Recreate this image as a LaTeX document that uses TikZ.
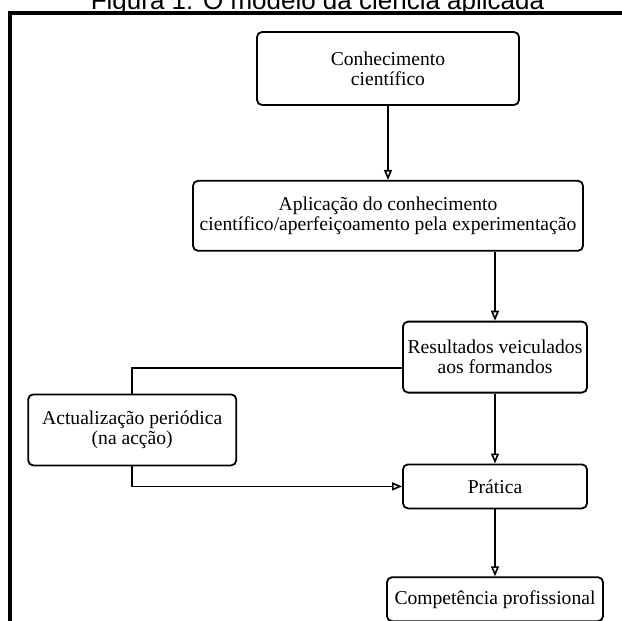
\documentclass[tikz,border=0pt]{standalone}
\usepackage{fontspec}
\setmainfont{Liberation Serif}
\newfontfamily\titlefont{Liberation Sans}
\usetikzlibrary{positioning, arrows.meta}

\begin{document}
\begin{tikzpicture}[
  node distance=35pt and 20pt,
  box/.style={draw, rounded corners=2.5pt, line width=0.9pt, align=center,
              inner sep=2pt, font=\fontsize{9.8pt}{10pt}\selectfont},
  arr/.style={-{Triangle[open, length=5pt, width=4pt]}, line width=0.8pt},
  link/.style={line width=0.8pt},
  frame/.style={line width=1.6pt},
]
\useasboundingbox (0,0) rectangle (311pt,-310.5pt);
\draw[frame] (5pt,-320pt) |- (320pt,-6.5pt);
\node[font=\titlefont\fontsize{13pt}{15pt}\selectfont, anchor=base] (title) at (158.75pt,-5pt) {Figura 1: O modelo da ciência aplicada};

\node[box, minimum width=131pt, minimum height=36.5pt] (ck) at (194pt,-34.25pt) {Conhecimento\\científico};
\node[box, minimum width=195pt, minimum height=35pt, below=37pt of ck] (ap) {Aplicação do conhecimento\\científico/aperfeiçoamento pela experimentação};
\node[box, minimum width=92pt, minimum height=35.5pt, below=34.5pt of ap, xshift=53.5pt] (rv) {Resultados veiculados\\aos formandos};
\node[box, minimum width=92pt, minimum height=22pt, below=35pt of rv] (pr) {Prática};
\node[box, minimum width=108pt, minimum height=22pt, below=33.5pt of pr] (cp) {Competência profissional};
\node[box, minimum width=104pt, minimum height=35.5pt, below left=0pt and 82.5pt of rv.south west] (ac) {Actualização periódica\\(na acção)};

\draw[arr] (ck) -- (ap);
\draw[arr] (ap.south -| rv.north) -- (rv);
\draw[arr] (rv) -- (pr);
\draw[arr] (pr) -- (cp);
\draw[link] ([yshift=-5.5pt]rv.west) -| (ac);
\draw[arr] (ac) |- (pr);
\end{tikzpicture}
\end{document}
